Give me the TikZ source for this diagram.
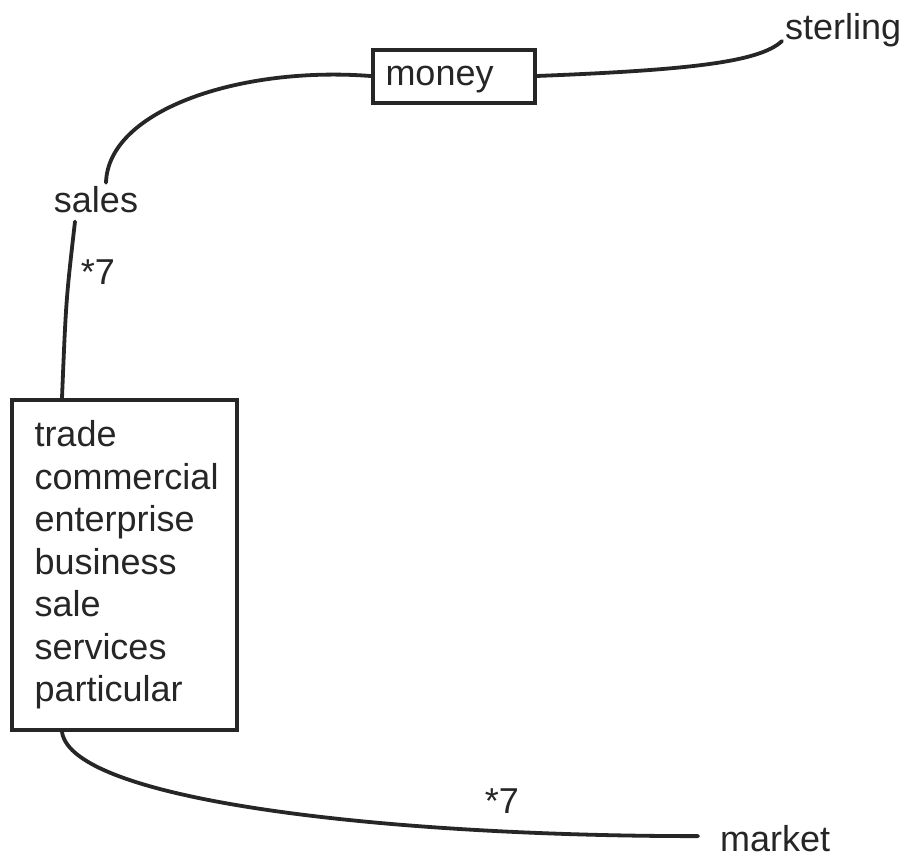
\documentclass[tikz,border=0pt]{standalone}
\usepackage{fontspec}
\setmainfont{Liberation Sans}
\definecolor{ink}{HTML}{262626}
\begin{document}
\begin{tikzpicture}[x=1pt,y=-1pt,
  every node/.style={text=ink},
  word/.style={font=\fontsize{36}{42.5}\selectfont, inner sep=0pt},
  framed/.style={word, draw=ink, line width=4pt, align=left},
  link/.style={draw=ink, line width=3.8pt, line cap=round}]
\useasboundingbox[fill=white] (0,0) rectangle (907,857);

% labelled boxes
\node[framed, text width=136pt, inner xsep=13pt, text height=25pt, text depth=7pt,
      minimum height=53pt] (money) at (453.5,76) {money};
\node[framed, text width=180pt, minimum width=225pt, minimum height=330pt] (box) at (124.5,565)
  {trade\\commercial\\enterprise\\business\\sale\\services\\particular};

% free words
\node[word, anchor=base west] (sterling) at (785,39) {sterling};
\node[word, anchor=base] (sales) at (96,212) {sales};
\node[word, anchor=base west] (market) at (720,851) {market};

% connectors
\path[link] (money.east) .. controls (690,70) and (760,62) .. ([xshift=-3pt,yshift=-2pt]sterling.base west);
\path[link] (money.west) .. controls (240,66) and (108,110) .. ([xshift=10pt,yshift=3pt]sales.north);
\path[link] ([xshift=-21pt,yshift=-9pt]sales.south) .. controls (66,300) .. ([xshift=-62.5pt]box.north);
\path[link] ([xshift=-62.5pt]box.south) .. controls (72,800) and (380,836) .. ([xshift=-22pt,yshift=2pt]market.west);

% multiplicity marks
\node[word, anchor=base] (m1) at (98,284) {*7};
\node[word, anchor=base] (m2) at (502,813) {*7};
\end{tikzpicture}
\end{document}
